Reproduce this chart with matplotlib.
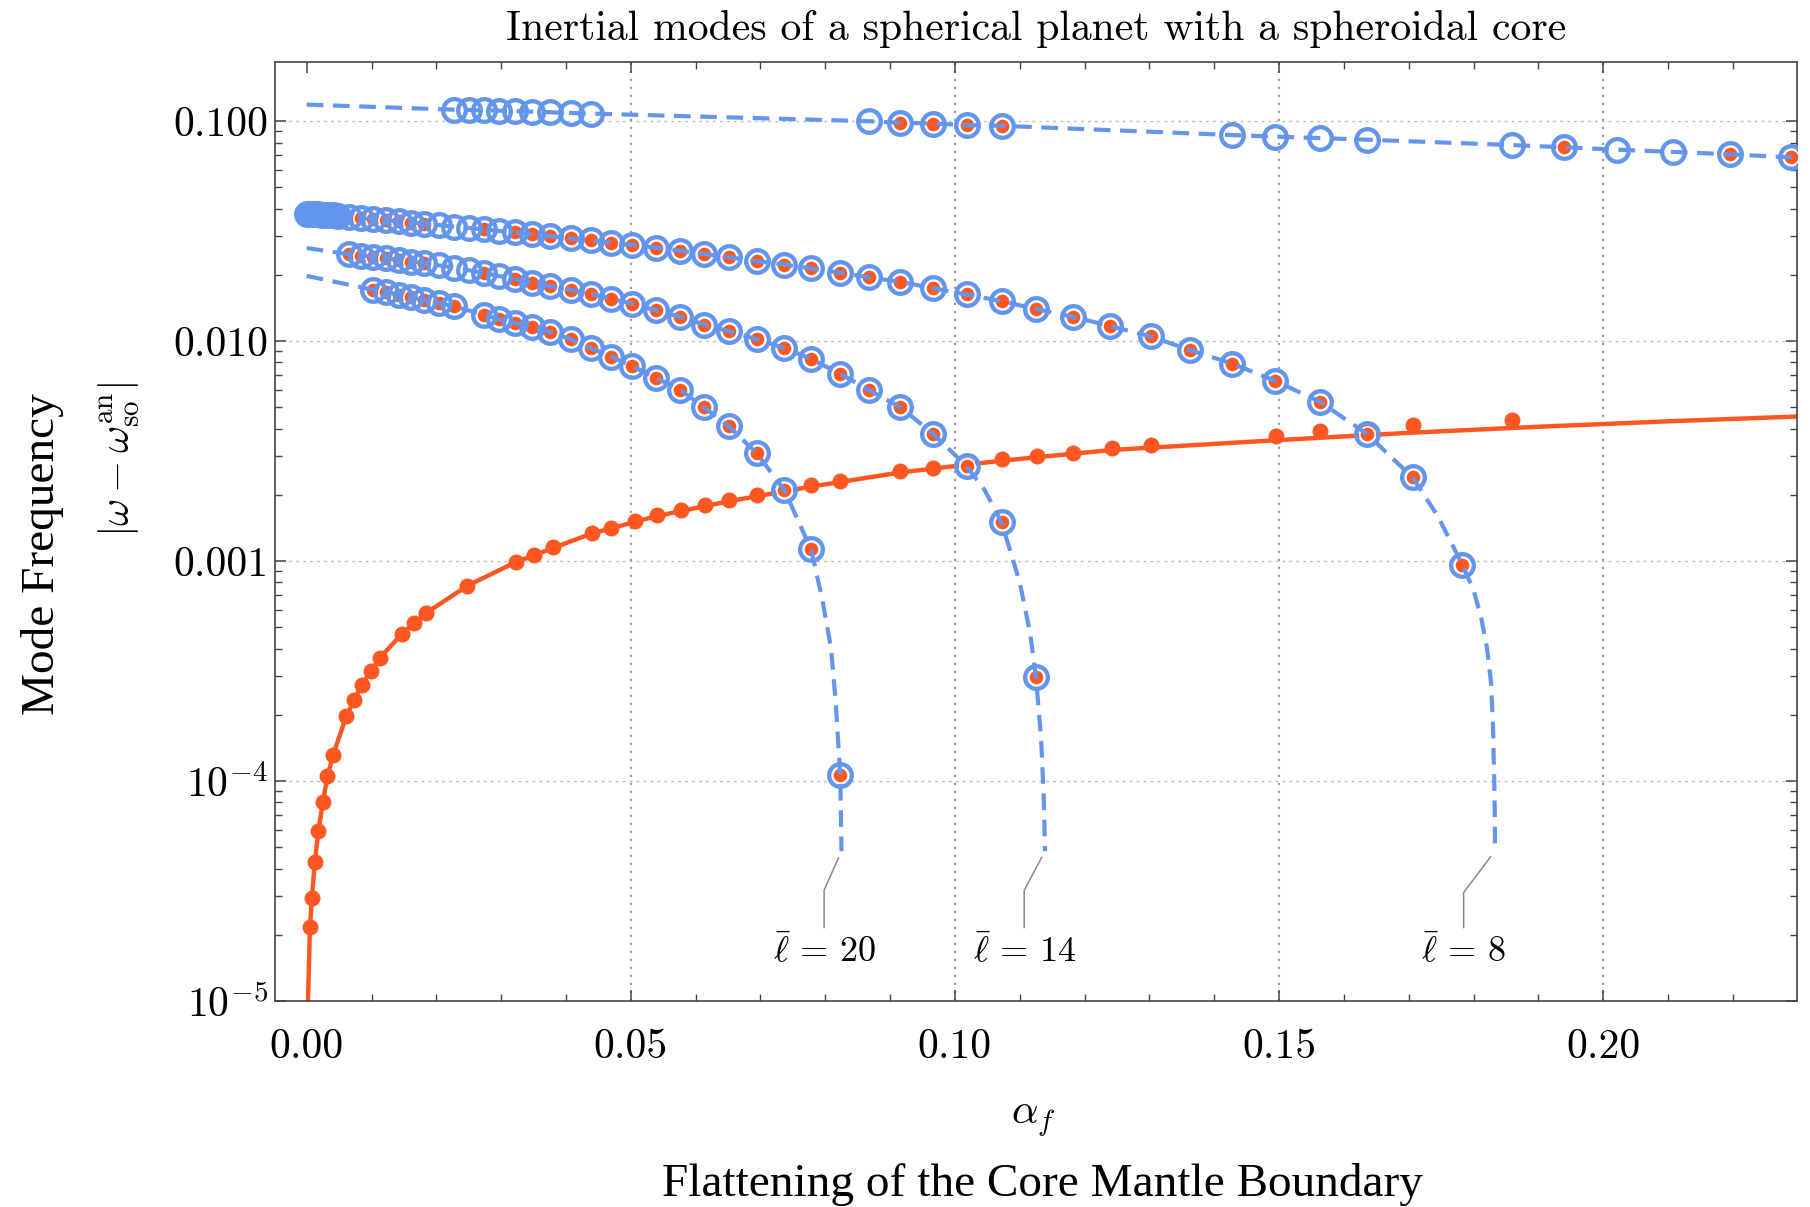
import numpy as np
import matplotlib
matplotlib.use("Agg")
import matplotlib.pyplot as plt
from matplotlib.ticker import FixedLocator, LogLocator, MultipleLocator, NullFormatter

plt.rcParams["font.family"] = "cmr10"
plt.rcParams["mathtext.fontset"] = "cm"
plt.rcParams["axes.unicode_minus"] = False
plt.rcParams["axes.formatter.use_mathtext"] = True

blue = "#6495ED"
orange = "#FF5722"

# flattening values where the numerical spectrum was computed
alpha_grid = [0.0066, 0.0084, 0.0103, 0.0123, 0.0143, 0.0161, 0.0181, 0.0204, 0.0227,
              0.0250, 0.0273, 0.0296, 0.0321, 0.0347, 0.0376, 0.0407, 0.0438, 0.0470,
              0.0502, 0.0539, 0.0576, 0.0613, 0.0651, 0.0694, 0.0737, 0.0778, 0.0823,
              0.0867, 0.0916, 0.0966, 0.1018, 0.1072, 0.1125, 0.1182, 0.1240, 0.1302,
              0.1363, 0.1428, 0.1494, 0.1563, 0.1635, 0.1706, 0.1783, 0.1859, 0.1940,
              0.2022, 0.2108, 0.2195, 0.2290]

# uppermost mode (no label)
top_alpha = [0.0227, 0.0250, 0.0273, 0.0296, 0.0321, 0.0347, 0.0376, 0.0407, 0.0438,
             0.0867, 0.0916, 0.0966, 0.1018, 0.1072, 0.1428, 0.1494, 0.1563, 0.1635,
             0.1859, 0.1940, 0.2022, 0.2108, 0.2195, 0.2290]
top_w = [0.1128, 0.1125, 0.1121, 0.1117, 0.1112, 0.1105, 0.1098, 0.1090, 0.1083,
         0.1000, 0.0984, 0.0976, 0.0960, 0.0953, 0.0865, 0.0851, 0.0838, 0.0824,
         0.0779, 0.0761, 0.0742, 0.0725, 0.0707, 0.0685]
top_numeric = [0.0916, 0.0966, 0.1018, 0.1072, 0.1940, 0.2195, 0.2290]
top_extra_alpha = [0.0, 0.2320]
top_extra_w = [0.1190, 0.0676]

# l = 8 mode
l8_alpha = alpha_grid[:43]
l8_w = [0.0367, 0.0362, 0.0358, 0.0354, 0.0350, 0.0346, 0.0342, 0.0337, 0.0332,
        0.0327, 0.0322, 0.0317, 0.0312, 0.0306, 0.0300, 0.0293, 0.0287, 0.0280,
        0.0274, 0.0266, 0.0258, 0.0249, 0.0241, 0.0231, 0.0223, 0.0214, 0.0205,
        0.0195, 0.0186, 0.0174, 0.0163, 0.0152, 0.0140, 0.0129, 0.0117, 0.0105,
        0.0091, 0.0079, 0.0066, 0.0053, 0.0038, 0.0024, 0.00096]
l8_missing = [0.0204, 0.0227, 0.0250, 0.0296]
l8_extra_alpha = [0.0, 0.1745, 0.1800, 0.1812, 0.1821, 0.1827, 0.1830, 0.1832, 0.1833,
                  0.1833]
l8_extra_w = [0.0380, 0.0016, 7.4e-4, 5.5e-4, 4.0e-4, 2.8e-4, 1.8e-4, 1.0e-4, 6.5e-5,
              4.8e-5]
l8_blob_alpha = [0.0, 0.0006, 0.0012, 0.0018, 0.0024, 0.0030, 0.0036, 0.0042, 0.0048]
l8_blob_w = [0.0380, 0.0379, 0.0378, 0.0377, 0.0376, 0.0375, 0.0374, 0.0373, 0.0371]

# l = 14 mode
l14_alpha = alpha_grid[:33]
l14_w = [0.0248, 0.0245, 0.0242, 0.0238, 0.0234, 0.0230, 0.0226, 0.0221, 0.0216,
         0.0210, 0.0204, 0.0198, 0.0191, 0.0184, 0.0178, 0.0171, 0.0164, 0.0156,
         0.0148, 0.0138, 0.0129, 0.0119, 0.0111, 0.0102, 0.0093, 0.0083, 0.0071,
         0.0060, 0.0050, 0.0038, 0.0027, 0.0015, 0.000297]
l14_missing = [0.0204, 0.0227, 0.0250, 0.0296]
l14_extra_alpha = [0.0, 0.1046, 0.1100, 0.1116, 0.1133, 0.1137, 0.1139]
l14_extra_w = [0.0265, 0.0021, 8.0e-4, 4.7e-4, 1.55e-4, 8.5e-5, 4.8e-5]

# l = 20 mode
l20_alpha = [0.0103, 0.0123, 0.0143, 0.0161, 0.0181, 0.0204, 0.0227, 0.0273, 0.0296,
             0.0321, 0.0347, 0.0376, 0.0407, 0.0438, 0.0470, 0.0502, 0.0539, 0.0576,
             0.0613, 0.0651, 0.0694, 0.0737, 0.0778, 0.0823]
l20_w = [0.0171, 0.0167, 0.0162, 0.0158, 0.0154, 0.0149, 0.0144, 0.0132, 0.0126,
         0.0121, 0.0116, 0.0110, 0.0102, 0.0093, 0.0085, 0.0077, 0.0068, 0.0060,
         0.0050, 0.0041, 0.0031, 0.0021, 0.00113, 0.000107]
l20_missing = []
l20_extra_alpha = [0.0, 0.0795, 0.0809, 0.0816, 0.0824, 0.0825]
l20_extra_w = [0.0198, 6.8e-4, 4.0e-4, 2.3e-4, 7.5e-5, 4.8e-5]

# spin-over mode: analytic curve and numerical points
so_line_alpha = [0.0001, 0.0002, 0.0005, 0.0008, 0.00125, 0.0018, 0.0025, 0.0032, 0.0041,
                 0.0061, 0.0085, 0.0113, 0.0147, 0.0184, 0.0248, 0.0323, 0.0438, 0.0539,
                 0.0651, 0.0778, 0.0916, 0.1072, 0.1242, 0.1500, 0.1700, 0.1900, 0.2100,
                 0.2350]
so_line_w = [6.0e-6, 1.0e-5, 2.16e-5, 2.94e-5, 4.27e-5, 5.94e-5, 8.0e-5, 1.05e-4, 1.32e-4,
             1.97e-4, 2.74e-4, 3.63e-4, 4.67e-4, 5.8e-4, 7.73e-4, 9.9e-4, 1.33e-3, 1.6e-3,
             1.87e-3, 2.18e-3, 2.53e-3, 2.86e-3, 3.2e-3, 3.55e-3, 3.83e-3, 4.08e-3, 4.32e-3,
             4.6e-3]
so_alpha = [0.0005, 0.0008, 0.00125, 0.0018, 0.0025, 0.0032, 0.0041, 0.0061, 0.0073,
            0.0085, 0.0099, 0.0113, 0.0147, 0.0166, 0.0184, 0.0248, 0.0323, 0.0350,
            0.0380, 0.0440, 0.0470, 0.0506, 0.0540, 0.0577, 0.0614, 0.0652, 0.0694,
            0.0737, 0.0778, 0.0823, 0.0916, 0.0966, 0.1018, 0.1072, 0.1127, 0.1182,
            0.1242, 0.1302, 0.1495, 0.1563, 0.1635, 0.1706, 0.1859]
so_w = [2.16e-5, 2.94e-5, 4.27e-5, 5.94e-5, 8.0e-5, 1.05e-4, 1.32e-4, 1.97e-4, 2.34e-4,
        2.74e-4, 3.16e-4, 3.63e-4, 4.67e-4, 5.24e-4, 5.80e-4, 7.73e-4, 9.93e-4, 1.07e-3,
        1.16e-3, 1.34e-3, 1.41e-3, 1.52e-3, 1.62e-3, 1.71e-3, 1.79e-3, 1.89e-3, 2.00e-3,
        2.11e-3, 2.22e-3, 2.31e-3, 2.56e-3, 2.65e-3, 2.74e-3, 2.90e-3, 3.02e-3, 3.11e-3,
        3.27e-3, 3.38e-3, 3.72e-3, 3.90e-3, 3.96e-3, 4.16e-3, 4.40e-3]

x_ticks = [0.0, 0.05, 0.10, 0.15, 0.20]
x_tick_labels = ["0.00", "0.05", "0.10", "0.15", "0.20"]
y_ticks = [1e-5, 1e-4, 1e-3, 1e-2, 1e-1]
y_tick_labels = [r"$10^{-5}$", r"$10^{-4}$", "0.001", "0.010", "0.100"]

fig = plt.figure(figsize=(18.1, 12.07), dpi=100)
ax = fig.add_axes([0.1519, 0.1707, 0.8409, 0.7780])
ax.set_yscale("log")
ax.set_xlim(-0.0049, 0.2299)
ax.set_ylim(1e-5, 0.186)

# grid
for xv in x_ticks[1:]:
    ax.axvline(xv, color="#9a9a9a", lw=1.6, ls=(0, (1, 2.6)), zorder=1)
for yv in y_ticks[1:]:
    ax.axhline(yv, color="#bdbdbd", lw=1.0, ls=(0, (2, 3)), zorder=1)

# spin-over mode
ax.plot(so_line_alpha, so_line_w, color=orange, lw=3.2, zorder=2)
ax.plot(so_alpha, so_w, "o", color=orange, ms=11.5, mew=0, zorder=3)


def draw_mode(a, w, extra_a, extra_w, numeric):
    a = np.asarray(a)
    w = np.asarray(w)
    la = np.concatenate([a, extra_a])
    lw_ = np.concatenate([w, extra_w])
    order = np.argsort(la, kind="stable")
    ax.plot(la[order], lw_[order], color=blue, lw=3.0, dashes=(4, 2.3), zorder=4)
    ax.plot(a[numeric], w[numeric], "o", color=orange, mec="white", ms=11, mew=1.2,
            zorder=3)
    ax.plot(a, w, "o", mfc="none", mec=blue, ms=16.3, mew=3.1, zorder=5)


draw_mode(top_alpha, top_w, top_extra_alpha, top_extra_w, np.isin(top_alpha, top_numeric))
draw_mode(l8_alpha, l8_w, l8_extra_alpha, l8_extra_w, ~np.isin(l8_alpha, l8_missing))
draw_mode(l14_alpha, l14_w, l14_extra_alpha, l14_extra_w, ~np.isin(l14_alpha, l14_missing))
draw_mode(l20_alpha, l20_w, l20_extra_alpha, l20_extra_w, ~np.isin(l20_alpha, l20_missing))
ax.plot(l8_blob_alpha, l8_blob_w, "o", color=blue, ms=16.3, mew=3.1, zorder=5)

# mode labels
labels = [(r"$\bar{\ell}\,=\,20$", l20_extra_alpha[-1], l20_extra_w[-1], -12.5, 66),
          (r"$\bar{\ell}\,=\,14$", l14_extra_alpha[-1], l14_extra_w[-1], -15, 62),
          (r"$\bar{\ell}\,=\,8$", l8_extra_alpha[-1], l8_extra_w[-1], -22.5, 53)]
for text, a_end, w_end, dx, ang in labels:
    ax.annotate(text, xy=(a_end, w_end), xytext=(dx, -72), textcoords="offset points",
                ha="center", va="center", fontsize=26, zorder=6,
                arrowprops=dict(arrowstyle="-", color="#888888", lw=1.1,
                                shrinkA=2, shrinkB=5,
                                connectionstyle=f"angle,angleA=90,angleB={ang},rad=0"))

# axes styling
ax.xaxis.set_major_locator(FixedLocator(x_ticks))
ax.set_xticklabels(x_tick_labels)
ax.xaxis.set_minor_locator(MultipleLocator(0.01))
ax.yaxis.set_major_locator(FixedLocator(y_ticks))
ax.set_yticklabels(y_tick_labels)
ax.yaxis.set_minor_locator(LogLocator(base=10, subs=np.arange(2, 10)))
ax.yaxis.set_minor_formatter(NullFormatter())
ax.tick_params(which="both", direction="in", top=True, right=True, color="#444444",
               labelsize=30)
ax.tick_params(which="major", length=8, width=1.1)
ax.tick_params(which="minor", length=5, width=1.0)
ax.tick_params(axis="x", pad=20)
ax.tick_params(axis="y", pad=5)
for sp in ax.spines.values():
    sp.set_color("#444444")
    sp.set_linewidth(1.2)

ax.set_title("Inertial modes of a spherical planet with a spheroidal core",
             fontsize=30, pad=16)

fig.text(43 / 1810, 1 - 554 / 1207, "Mode Frequency", rotation=90, fontsize=34,
         family="Liberation Serif", ha="center", va="center")
fig.text(119 / 1810, 1 - 459 / 1207, r"$|\omega - \omega_{\mathrm{so}}^{\mathrm{an}}|$",
         rotation=90, fontsize=30, ha="center", va="center")
fig.text(1033 / 1810, 1 - 1120 / 1207, r"$\alpha_f$", fontsize=30, ha="center",
         va="center")
fig.text(1042 / 1810, 1 - 1185 / 1207, "Flattening of the Core Mantle Boundary",
         fontsize=34, family="Liberation Serif", ha="center", va="center")

fig.savefig("out.png", dpi=100)
